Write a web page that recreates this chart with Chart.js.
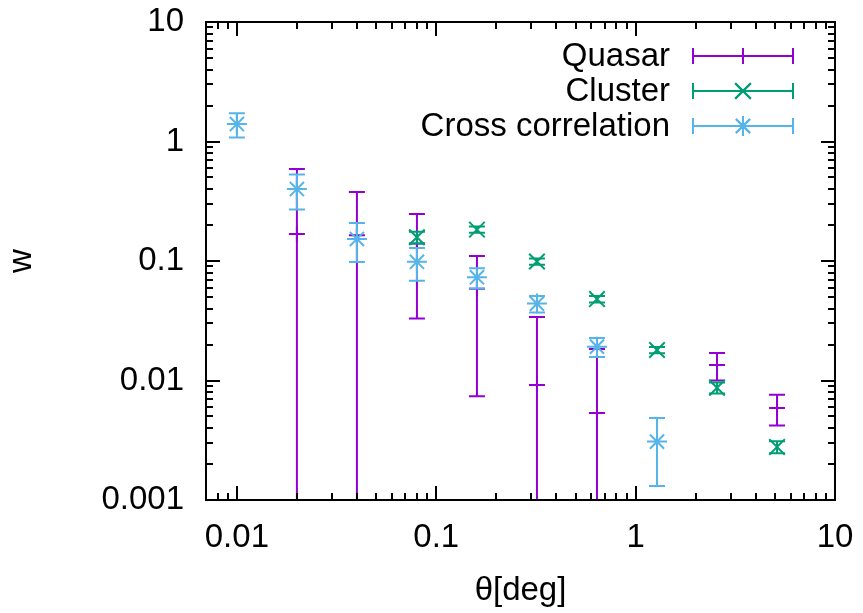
<!DOCTYPE html>
<html>
<head>
<meta charset="utf-8">
<script src="https://cdn.jsdelivr.net/npm/chart.js@4.4.1/dist/chart.umd.min.js"></script>
<style>
  html, body { margin: 0; padding: 0; background: #fff; }
  #wrap { width: 863px; height: 613px; }
</style>
</head>
<body>
<div id="wrap"><canvas id="wchart" width="863" height="613"></canvas></div>
<script>
// angular separation (deg)
const theta = [0.01, 0.02, 0.04, 0.08, 0.16, 0.32, 0.64, 1.28, 2.56, 5.12];

const quasarW   = [null, 0.168, 0.164, 0.140, 0.0587, 0.00916, 0.00535, null, 0.0135, 0.0059];
const quasarErr = [null, 0.42, 0.214, 0.107, 0.0513, 0.0248, 0.013, null, 0.0035, 0.0017];

const clusterW   = [null, null, null, 0.158, 0.183, 0.099, 0.048, 0.018, 0.0087, 0.00278];
const clusterErr = [null, null, null, 0.018, 0.011, 0.006, 0.003, 0.0011, 0.0009, 0.00032];

const crossW   = [1.40, 0.40, 0.153, 0.0985, 0.073, 0.044, 0.0192, 0.00308, null, null];
const crossErr = [0.32, 0.13, 0.055, 0.030, 0.014, 0.007, 0.0035, 0.00177, null, null];

const xTickValues = [0.01, 0.1, 1, 10];
const xTickLabels = ['0.01', '0.1', '1', '10'];
const yTickValues = [0.001, 0.01, 0.1, 1, 10];
const yTickLabels = ['0.001', '0.01', '0.1', '1', '10'];

const FONT = "'Liberation Sans', Arial, sans-serif";

function makePoints(ys, errs)
{
    let pts = [];
    for (let i = 0; i < theta.length; i++)
    {
        if (ys[i] === null) continue;
        pts.push({ x: theta[i], y: ys[i], err: errs[i] });
    }
    return pts;
}

// major + minor ticks for a log axis
function logTicks(min, max)
{
    let out = [];
    for (let d = Math.floor(Math.log10(min)); d <= Math.ceil(Math.log10(max)); d++)
    {
        for (let k = 1; k <= 9; k++)
        {
            let v = parseFloat((k * Math.pow(10, d)).toPrecision(6));
            if (v >= min * 0.999 && v <= max * 1.001) out.push({ value: v, major: k === 1 });
        }
    }
    return out;
}

// vertical error bars with caps, drawn under each dataset's markers
const errorBars = {
    id: 'errorBars',
    beforeDatasetDraw(chart, args)
    {
        const ds = chart.data.datasets[args.index];
        const xs = chart.scales.x, ys = chart.scales.y;
        const area = chart.chartArea;
        const ctx = chart.ctx;
        ctx.save();
        ctx.beginPath();
        ctx.rect(area.left, area.top, area.right - area.left, area.bottom - area.top);
        ctx.clip();
        ctx.strokeStyle = ds.borderColor;
        ctx.lineWidth = 2;
        for (let p of ds.data)
        {
            const px = xs.getPixelForValue(p.x);
            const hi = ys.getPixelForValue(p.y + p.err);
            const lo = (p.y - p.err) > 0 ? ys.getPixelForValue(p.y - p.err) : area.bottom + 20;
            ctx.beginPath();
            ctx.moveTo(px, hi); ctx.lineTo(px, lo);
            ctx.moveTo(px - 8, hi); ctx.lineTo(px + 8, hi);
            ctx.moveTo(px - 8, lo); ctx.lineTo(px + 8, lo);
            ctx.stroke();
        }
        ctx.restore();
    }
};

// gnuplot style frame: border on four sides, ticks pointing inward
const frame = {
    id: 'frame',
    afterDraw(chart)
    {
        const ctx = chart.ctx;
        const a = chart.chartArea;
        ctx.save();
        ctx.strokeStyle = '#000';
        ctx.lineWidth = 2;
        ctx.beginPath();
        for (let t of chart.scales.x.ticks)
        {
            const px = Math.round(chart.scales.x.getPixelForValue(t.value));
            const len = t.major ? 14 : 7;
            ctx.moveTo(px, a.bottom); ctx.lineTo(px, a.bottom - len);
            ctx.moveTo(px, a.top); ctx.lineTo(px, a.top + len);
        }
        for (let t of chart.scales.y.ticks)
        {
            const py = Math.round(chart.scales.y.getPixelForValue(t.value));
            const len = t.major ? 14 : 7;
            ctx.moveTo(a.left, py); ctx.lineTo(a.left + len, py);
            ctx.moveTo(a.right, py); ctx.lineTo(a.right - len, py);
        }
        ctx.stroke();
        ctx.strokeRect(a.left, a.top, a.right - a.left, a.bottom - a.top);
        ctx.restore();
    }
};

// key in the top right corner, error-bar sample to the right of the text
const keyBox = {
    id: 'keyBox',
    afterDraw(chart)
    {
        const ctx = chart.ctx;
        ctx.save();
        ctx.font = '33px ' + FONT;
        ctx.textAlign = 'right';
        ctx.textBaseline = 'middle';
        chart.data.datasets.forEach((ds, i) =>
        {
            const y = 56 + i * 35;
            ctx.fillStyle = '#000';
            ctx.fillText(ds.label, 670, y + 1);
            ctx.strokeStyle = ds.borderColor;
            ctx.lineWidth = 2;
            ctx.beginPath();
            ctx.moveTo(693, y); ctx.lineTo(793, y);
            ctx.moveTo(693, y - 8); ctx.lineTo(693, y + 8);
            ctx.moveTo(793, y - 8); ctx.lineTo(793, y + 8);
            ctx.stroke();
            Chart.helpers.drawPoint(ctx, {
                pointStyle: ds.pointStyle, radius: ds.pointRadius, rotation: 0, borderWidth: 2
            }, 743, y);
            ctx.stroke();
        });
        ctx.restore();
    }
};

const config = {
    type: 'scatter',
    data: {
        datasets: [
            {
                label: 'Quasar', data: makePoints(quasarW, quasarErr),
                borderColor: '#9400d3', backgroundColor: '#9400d3',
                pointStyle: 'cross', pointRadius: 8, borderWidth: 2, order: 3
            },
            {
                label: 'Cluster', data: makePoints(clusterW, clusterErr),
                borderColor: '#009e73', backgroundColor: '#009e73',
                pointStyle: 'crossRot', pointRadius: 11, borderWidth: 2, order: 2
            },
            {
                label: 'Cross correlation', data: makePoints(crossW, crossErr),
                borderColor: '#56b4e9', backgroundColor: '#56b4e9',
                pointStyle: 'star', pointRadius: 10, borderWidth: 2, order: 1
            }
        ]
    },
    options: {
        responsive: false,
        animation: false,
        layout: { padding: { top: 22, right: 28, left: 0, bottom: 0 } },
        plugins: { legend: { display: false }, tooltip: { enabled: false } },
        scales: {
            x: {
                type: 'logarithmic', min: 0.007, max: 10,
                grid: { display: false, drawTicks: false },
                border: { display: false },
                afterBuildTicks: (s) => { s.ticks = logTicks(0.007, 10); },
                afterFit: (s) => { s.height = 113; s.paddingLeft = 0; s.paddingRight = 0; },
                ticks: {
                    autoSkip: false, maxRotation: 0, padding: 18, color: '#000',
                    font: { family: FONT, size: 33 },
                    callback: (v) => { let i = xTickValues.indexOf(v); return i >= 0 ? xTickLabels[i] : ''; }
                },
                title: {
                    display: true, text: 'θ[deg]', color: '#000',
                    font: { family: FONT, size: 33 }, padding: { top: 0, bottom: 2 }
                }
            },
            y: {
                type: 'logarithmic', min: 0.001, max: 10,
                grid: { display: false, drawTicks: false },
                border: { display: false },
                afterBuildTicks: (s) => { s.ticks = logTicks(0.001, 10); },
                afterFit: (s) => { s.width = 206; s.paddingTop = 0; s.paddingBottom = 0; },
                ticks: {
                    autoSkip: false, padding: 22, color: '#000',
                    font: { family: FONT, size: 33 },
                    callback: (v) => { let i = yTickValues.indexOf(v); return i >= 0 ? yTickLabels[i] : ''; }
                },
                title: {
                    display: true, text: 'w', color: '#000',
                    font: { family: FONT, size: 33 }, padding: { top: 2, bottom: 0 }
                }
            }
        }
    },
    plugins: [errorBars, frame, keyBox]
};

var wchart = new Chart(document.getElementById('wchart'), config);
</script>
</body>
</html>
